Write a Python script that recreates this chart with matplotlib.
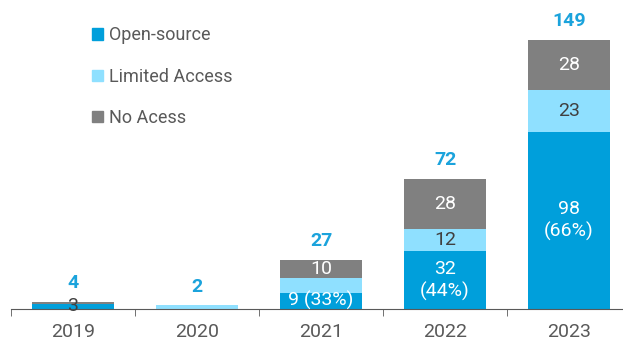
import numpy as np
import matplotlib.pyplot as plt
from matplotlib.patches import Patch

plt.rcParams['font.family'] = ['Liberation Sans Narrow', 'Roboto', 'DejaVu Sans']

years = ['2019', '2020', '2021', '2022', '2023']
open_source = [3, 0, 9, 32, 98]
limited = [0, 2, 8, 12, 23]
no_access = [1, 0, 10, 28, 28]
show_open = [True, False, True, True, True]
show_limited = [False, False, False, True, True]
show_no = [False, False, True, True, True]

c_open = '#009fdb'
c_lim = '#8fe0ff'
c_no = '#808080'
c_total = '#1ba3dc'
c_text = '#595959'

fig = plt.figure(figsize=(6.23, 3.45), dpi=100)
ax = fig.add_axes([11 / 623, 36 / 345, 612 / 623, 309 / 345])

x = np.arange(len(years))
o = np.array(open_source)
l = np.array(limited)
n = np.array(no_access)
tot = o + l + n
w = 0.66

ax.bar(x, o, w, color=c_open)
ax.bar(x, l, w, bottom=o, color=c_lim)
ax.bar(x, n, w, bottom=o + l, color=c_no)

for i in range(len(years)):
    if show_open[i]:
        if o[i] > 20:
            s = f'{o[i]}\n({o[i] / tot[i]:.0%})'
        elif o[i] > 5:
            s = f'{o[i]} ({o[i] / tot[i]:.0%})'
        else:
            s = f'{o[i]}'
        col = 'white' if o[i] > 5 else '#404040'
        ax.text(x[i], o[i] / 2, s, ha='center', va='center', color=col,
                fontsize=14, linespacing=1.25)
    if show_limited[i]:
        ax.text(x[i], o[i] + l[i] / 2, str(l[i]), ha='center', va='center',
                color='#404040', fontsize=14)
    if show_no[i]:
        ax.text(x[i], o[i] + l[i] + n[i] / 2, str(n[i]), ha='center', va='center',
                color='white', fontsize=14)
    ax.annotate(str(tot[i]), (x[i], tot[i]), xytext=(0, 7), textcoords='offset points',
                ha='center', va='bottom', color=c_total, fontsize=14, fontweight='bold')

ax.set_xlim(-0.5, 4.435)
ax.set_ylim(0, 171)
ax.set_yticks([])
ax.set_xticks(x)
ax.set_xticklabels(years, fontsize=14, color=c_text)
ax.tick_params(axis='x', which='major', length=0, pad=10)
ax.set_xticks(np.arange(-0.5, 4, 1), minor=True)
ax.tick_params(axis='x', which='minor', length=5, color='#595959', direction='out')
for side in ['top', 'right', 'left']:
    ax.spines[side].set_visible(False)
ax.spines['bottom'].set_color('#595959')

handles = [Patch(color=c_open, label='Open-source'),
           Patch(color=c_lim, label='Limited Access'),
           Patch(color=c_no, label='No Acess')]
leg = ax.legend(handles=handles, loc='upper left', bbox_to_anchor=(0.106, 0.968),
                frameon=False, fontsize=13, handlelength=0.6, handleheight=0.6,
                handletextpad=0.35, labelspacing=1.3)
for t in leg.get_texts():
    t.set_color(c_text)

fig.savefig('out.png', dpi=100)
